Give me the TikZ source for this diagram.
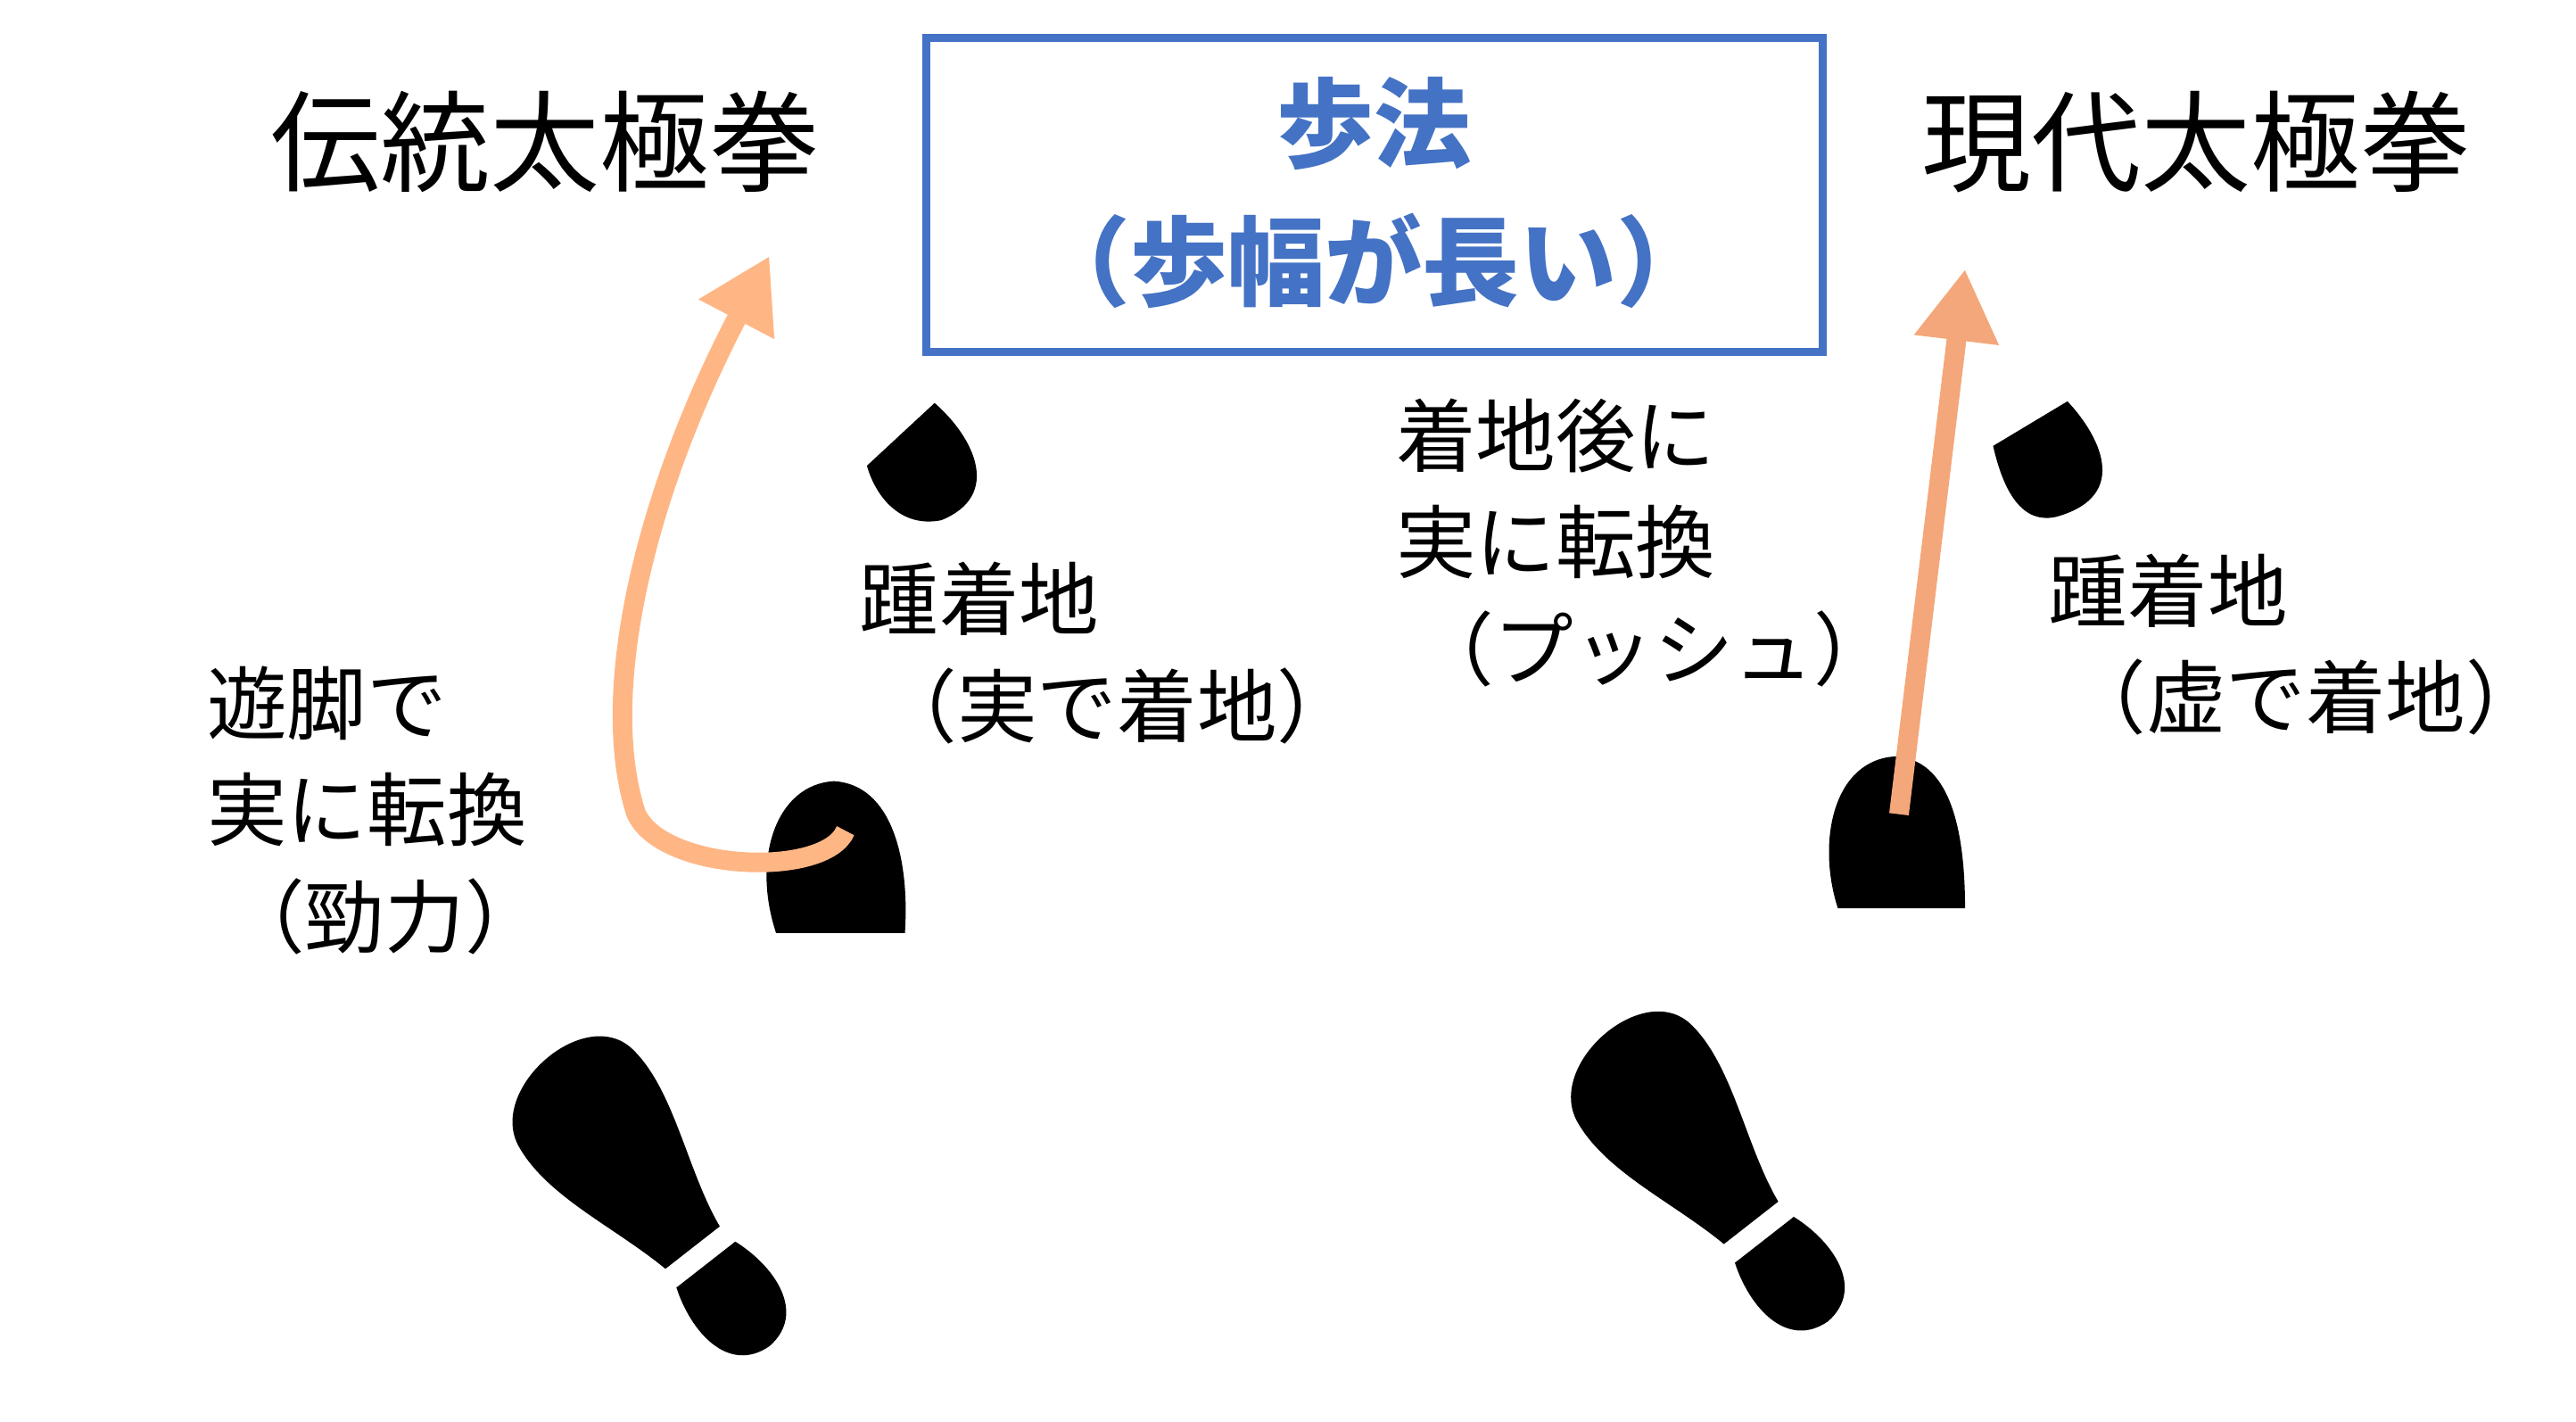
\documentclass[tikz,border=0pt]{standalone}
\usepackage{fontspec}
\setmainfont{Noto Sans CJK JP}
\usetikzlibrary{arrows.meta}
\definecolor{boxblue}{HTML}{4472C4}
\definecolor{arrL}{HTML}{FFB685}
\definecolor{arrR}{HTML}{F4A77A}
\begin{document}
\begin{tikzpicture}[x=0.01851cm,y=-0.01851cm,
  title/.style={font=\fontsize{35}{40}\selectfont},
  lab/.style={font=\fontsize{25.5}{34}\selectfont,align=left,anchor=north west,inner sep=0pt},
  boxtxt/.style={font=\fontsize{31}{44}\selectfont\bfseries,text=boxblue},
  bigarrow/.style={line width=0.22cm,-{Triangle[length=0.8cm,width=0.9cm]}}]
\useasboundingbox (0,0) rectangle (1560,861);
\node[title] (tl) at (330,86) {伝統太極拳};
\node[title] (tr) at (1330,86) {現代太極拳};
\draw[boxblue,line width=2.5pt] (561,23) rectangle (1104,213);
\node[boxtxt] (b1) at (832,75) {歩法};
\node[boxtxt] (b2) at (832,158) {（歩幅が長い）};
\node[lab] (l1) at (125,403) {遊脚で\\実に転換\\\ （勁力）};
\node[lab] (l2) at (520,340) {踵着地\\\ （実で着地）};
\node[lab] (l3) at (845,241) {着地後に\\実に転換\\\ （プッシュ）};
\node[lab] (l4) at (1240,335) {踵着地\\\ （虚で着地）};
% heels and toes
\fill (470,565) -- (548,565) .. controls (551,520) and (540,475) .. (505,473) .. controls (470,475) and (455,520) .. (470,565);
\fill (1113,550) -- (1190,550) .. controls (1190,500) and (1180,460) .. (1148,458) .. controls (1110,460) and (1100,510) .. (1113,550);
\fill (525,282) -- (566,244) .. controls (590,265) and (607,300) .. (570,315) .. controls (545,320) and (530,300) .. (525,282);
\fill (1207,270) -- (1252,243) .. controls (1270,262) and (1292,300) .. (1245,313) .. controls (1222,318) and (1212,292) .. (1207,270);
% footprints
\foreach \cx/\cy in {398/728, 1039/713}{
\begin{scope}[shift={(\cx,\cy)},rotate=38,scale=0.87]
\fill (-24,40) .. controls (-34,-5) and (-58,-50) .. (-52,-90) .. controls (-45,-135) and (45,-140) .. (52,-95) .. controls (58,-55) and (30,-5) .. (24,40) -- cycle;
\fill (-26,55) -- (26,55) .. controls (37,85) and (35,125) .. (0,127) .. controls (-35,125) and (-37,85) .. (-26,55) -- cycle;
\end{scope}}
% arrows
\coordinate (a1s) at (512,503);
\coordinate (a1e) at (466,155);
\draw[bigarrow,arrL] (a1s) .. controls (500,532) and (400,528) .. (385,492) .. controls (362,420) and (390,300) .. (a1e);
\coordinate (a2s) at (1150,493);
\coordinate (a2e) at (1190,163);
\draw[bigarrow,arrR] (a2s) -- (a2e);
\end{tikzpicture}
\end{document}
